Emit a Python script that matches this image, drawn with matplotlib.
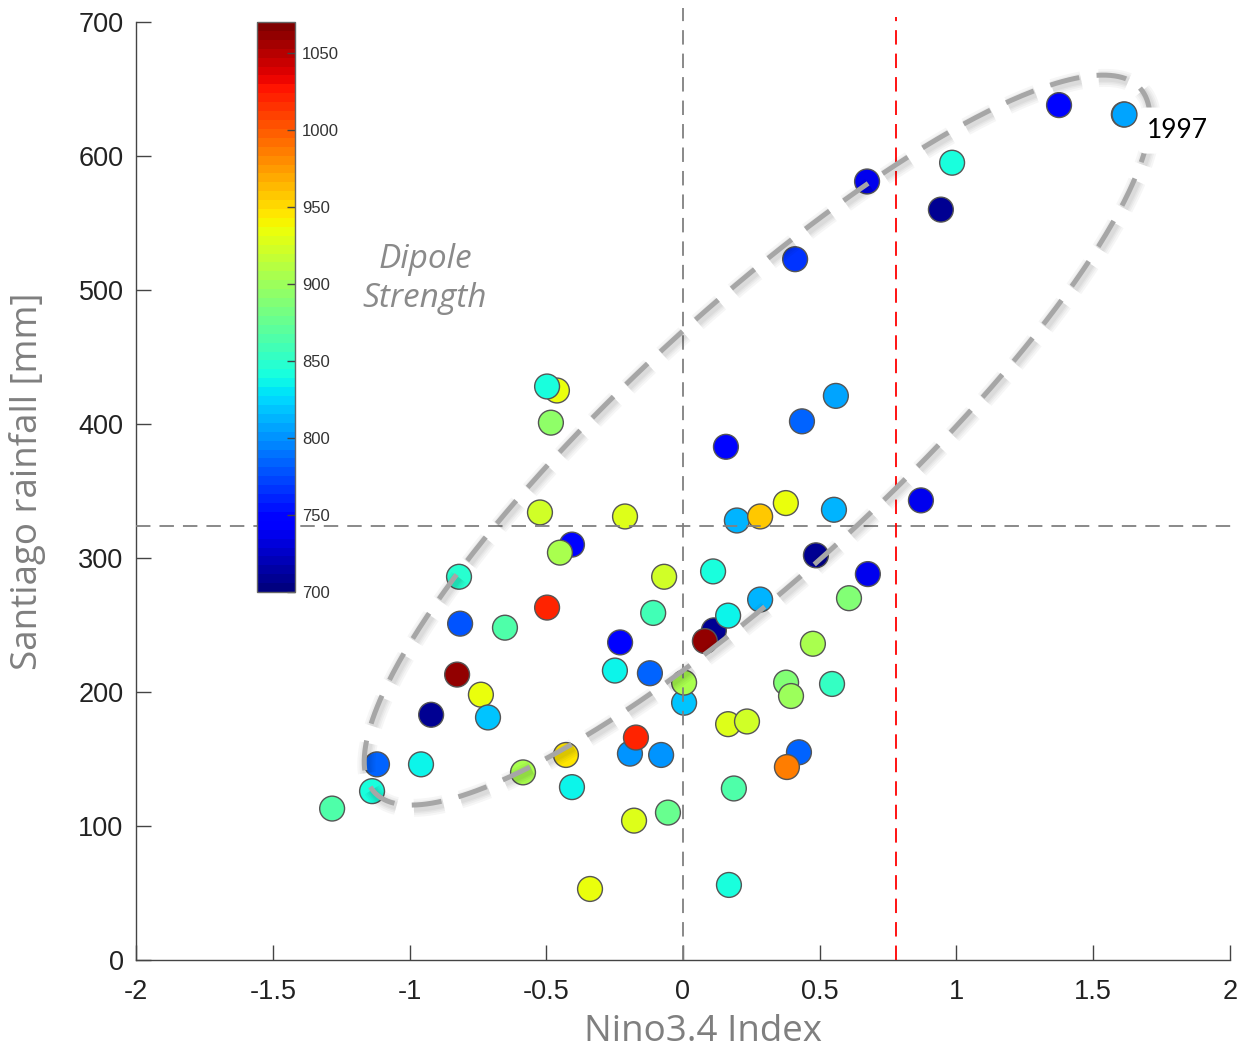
import matplotlib
matplotlib.use("Agg")
import matplotlib.pyplot as plt
import matplotlib.patheffects as pe
import numpy as np

# Nino3.4 index, Santiago rainfall [mm], dipole strength (colour)
# order matters: later points are drawn on top
nino = [1.375, 1.612, 0.984, 0.943, 0.673, 0.410, 0.559, 0.435, 0.157, 0.870,
        0.376, 0.552, 0.197, 0.282, -0.212, 0.486, 0.113, 0.110, -0.069, 0.676,
        0.607, 0.282, -0.109, 0.165, 0.080, -0.230, 0.475, -0.461, -0.497, -0.483,
        -0.523, -0.406, -0.450, -0.819, -0.815, -0.651, -0.497, -0.826, -0.739, -0.713,
        -0.921, -1.119, -0.958, -1.137, -1.283, -0.585, -0.428, -0.406, -0.340, -0.194,
        -0.172, -0.080, -0.249, -0.121, -0.179, -0.055, 0.004, 0.004, 0.165, 0.234,
        0.377, 0.395, 0.545, 0.424, 0.380, 0.186, 0.168]
rain = [638, 631, 595, 560, 581, 523, 421, 402, 383, 343,
        341, 336, 328, 331, 331, 302, 246, 290, 286, 288,
        270, 269, 259, 257, 238, 237, 236, 425, 428, 401,
        334, 310, 304, 286, 251, 248, 263, 213, 198, 181,
        183, 146, 146, 126, 113, 140, 153, 129, 53, 154,
        166, 153, 216, 214, 104, 110, 192, 207, 176, 178,
        207, 197, 206, 155, 144, 128, 56]
dipole = [752, 807, 844, 710, 740, 765, 807, 781, 752, 737,
          937, 810, 812, 955, 926, 707, 707, 840, 920, 740,
          890, 815, 860, 833, 1063, 745, 905, 937, 844, 895,
          920, 752, 905, 850, 778, 866, 1022, 1063, 937, 818,
          710, 781, 833, 844, 866, 905, 945, 833, 937, 800,
          1022, 800, 833, 781, 926, 875, 818, 905, 926, 920,
          885, 900, 855, 783, 989, 866, 844]

rain_mean = 324
nino_threshold = 0.78
cbar_ticks = [700, 750, 800, 850, 900, 950, 1000, 1050]
x_ticks = [-2, -1.5, -1, -0.5, 0, 0.5, 1, 1.5, 2]
x_ticklabels = ["-2", "-1.5", "-1", "-0.5", "0", "0.5", "1", "1.5", "2"]
y_ticks = [0, 100, 200, 300, 400, 500, 600, 700]

# hand-drawn ellipse around the points (centre and conjugate half-axes, data units)
ell_center = (0.271, 388)
ell_major = (1.400, 262.7)
ell_minor = (0.322, -72.0)

fig = plt.figure(figsize=(12.39, 10.54), dpi=100)
ax = fig.add_axes([0.1098, 0.0892, 0.8829, 0.8899])

cmap = plt.get_cmap("jet", 64)
sc = ax.scatter(nino, rain, c=dipole, cmap=cmap, vmin=700, vmax=1070, s=320,
                edgecolors="#555555", linewidths=1.0, zorder=3)

ax.axhline(rain_mean, color="#808080", lw=1.3, ls=(0, (8, 5)), zorder=4, xmax=1.01, clip_on=False)
ax.axvline(0, color="#808080", lw=1.3, ls=(0, (8, 5)), zorder=4, ymax=1.015, clip_on=False)
ax.axvline(nino_threshold, color="red", lw=1.3, ls=(0, (8, 5)), zorder=4, ymax=1.005, clip_on=False)

t = np.linspace(0, 2 * np.pi, 500)
ex = ell_center[0] + ell_major[0] * np.cos(t) + ell_minor[0] * np.sin(t)
ey = ell_center[1] + ell_major[1] * np.cos(t) + ell_minor[1] * np.sin(t)
# soft shadow: a few wide, faint copies under the dashed line
shadow = [pe.SimpleLineShadow(offset=(1.5, -2), shadow_color="k", alpha=0.035, linewidth=w)
          for w in (13, 10, 7.5, 5.5)]
ax.plot(ex, ey, color="#a6a6a6", lw=3.6, ls=(0, (6, 3.5)), zorder=5,
        path_effects=shadow + [pe.Normal()])

# label box hides a piece of the ellipse, but the 1997 point stays on top
ax.text(1.695, 619, "1997", fontsize=19, family=["Lato", "DejaVu Sans"], ha="left", va="center",
        zorder=6, bbox=dict(boxstyle="round,pad=0.4", fc="white", ec="none"))
ax.scatter(nino[1:2], rain[1:2], c=dipole[1:2], cmap=cmap, vmin=700, vmax=1070, s=320,
           edgecolors="#555555", linewidths=1.0, zorder=7)

ax.set_xlim(-2, 2)
ax.set_ylim(0, 700)
ax.set_xticks(x_ticks)
ax.set_xticklabels(x_ticklabels)
ax.set_yticks(y_ticks)
for s in ["top", "right"]:
    ax.spines[s].set_visible(False)
for s in ["left", "bottom"]:
    ax.spines[s].set_color("#444444")
    ax.spines[s].set_linewidth(1.0)
ax.tick_params(direction="in", length=11, width=1, color="#444444", labelcolor="#222222",
               labelsize=19.5, pad=9)
ax.tick_params(axis="x", pad=14)
for lab in ax.get_xticklabels() + ax.get_yticklabels():
    lab.set_family(["Liberation Sans", "DejaVu Sans"])

ax.set_xlabel("Nino3.4 Index", fontsize=26.5, color="#7f7f7f", family=["Open Sans", "DejaVu Sans"])
ax.xaxis.set_label_coords(0.518, -0.058)
ax.set_ylabel("Santiago rainfall [mm]", fontsize=26.5, color="#7f7f7f",
              family=["Open Sans", "DejaVu Sans"])
ax.yaxis.set_label_coords(-0.082, 0.51)

cax = fig.add_axes([0.2074, 0.4383, 0.0307, 0.5408])
cb = fig.colorbar(sc, cax=cax, ticks=cbar_ticks)
cb.outline.set_edgecolor("#666666")
cb.outline.set_linewidth(1.0)
cax.tick_params(direction="in", length=6, width=1, color="#444444", labelsize=12,
                labelcolor="#333333", pad=5)
for lab in cax.get_yticklabels():
    lab.set_family(["Liberation Sans", "DejaVu Sans"])

fig.text(0.343, 0.735, "Dipole\nStrength", fontsize=24, style="italic", color="#8a8a8a",
         family=["Open Sans", "DejaVu Sans"], ha="center", va="center", linespacing=1.25)

fig.savefig("out.png", dpi=100)
